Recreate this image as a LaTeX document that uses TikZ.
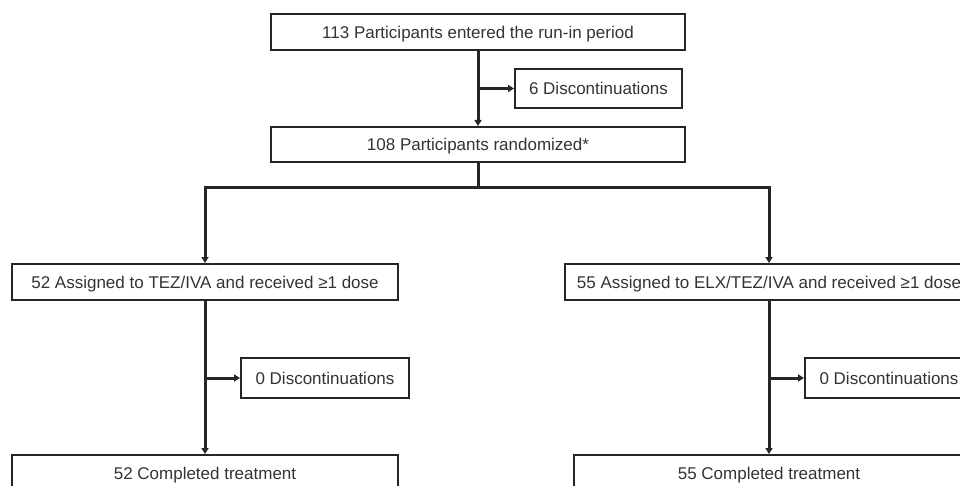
\documentclass[tikz,border=0pt]{standalone}
\usepackage{fontspec}
\setmainfont{Liberation Sans}
\usetikzlibrary{arrows.meta,positioning}
\begin{document}
\begin{tikzpicture}[
    x=1pt,y=-1pt,
    b/.style={draw=black!85,line width=2pt,minimum height=36pt,inner sep=0pt,
      text height=12pt,text depth=0pt,
      font=\fontsize{17}{20}\selectfont,text=black!80},
    e/.style={-{Triangle[length=6pt,width=7pt]},line width=3pt,black!85}
  ]
    \useasboundingbox (0,0) rectangle (960,486);
    \clip (0,0) rectangle (960,486);
    \node[b,minimum width=414pt] (runin) at (478,32.5) {113 Participants entered the run-in period};
    \node[b,minimum width=167pt,minimum height=39pt] (drop0) at (598.5,88.5) {6 Discontinuations};
    \node[b,minimum width=414pt,minimum height=35pt] (rand) at (478,144.5) {108 Participants randomized*};
    \node[b,minimum width=386pt] (tez) at (205,282) {52 Assigned to TEZ/IVA and received ≥1 dose};
    \node[b,minimum width=408pt] (elx) at (769,282) {55 Assigned to ELX/TEZ/IVA and received ≥1 dose};
    \node[b,minimum width=168pt,minimum height=40pt] (dropT) at (325,378) {0 Discontinuations};
    \node[b,minimum width=168pt,minimum height=40pt] (dropE) at (889,378) {0 Discontinuations};
    \node[b,minimum width=386pt] (doneT) at (205,473) {52 Completed treatment};
    \node[b,minimum width=390pt] (doneE) at (769,473) {55 Completed treatment};
    \draw[e] (runin) -- (rand);
    \draw[e] (runin.south |- drop0.west) -- (drop0);
    \foreach \t in {tez,elx} {\draw[e] (rand.south) -- ++(0,25) -| (\t);}
    \foreach \s/\d/\t in {tez/dropT/doneT,elx/dropE/doneE} {
      \draw[e] (\s) -- (\t);
      \draw[e] (\s.south |- \d.west) -- (\d);
    }
\end{tikzpicture}
\end{document}
